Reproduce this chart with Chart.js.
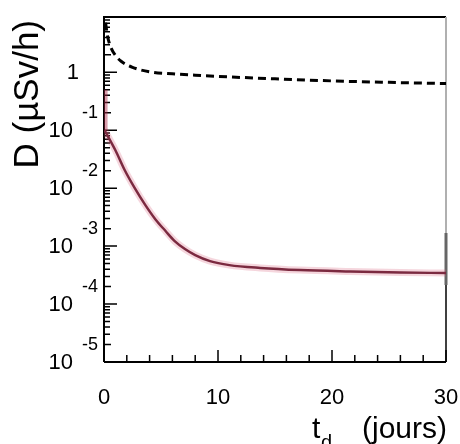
<!DOCTYPE html>
<html>
<head>
<meta charset="utf-8">
<script src="https://cdn.jsdelivr.net/npm/chart.js@4.4.1/dist/chart.umd.min.js"></script>
<style>
html,body{margin:0;padding:0;background:#fff;}
#wrap{width:460px;height:444px;}
</style>
</head>
<body>
<div id="wrap"><canvas id="doseChart" width="460" height="444"></canvas></div>
<script>

// dose curves (t in days, D in uSv/h)
const dashDays=[0,0.3,0.6,1,1.5,2.5,4,6,8,10,15,20,25,30];
const dashDose=[12,4.3,2.7,1.96,1.55,1.22,1.02,0.94,0.89,0.85,0.77,0.71,0.67,0.64];

// short rise along the axis at t=0
const edgeDays=[0,0.05];
const edgeDose=[0.5,0.1];

const redDays=[0.05,1,1.8,2.7,3.6,4.5,5.4,6.2,7.1,8,9.3,11,13.7,17.2,21.6,26,30];
const redDose=[0.1,0.0452,0.0208,0.01,0.0052,0.00292,0.00182,0.00122,0.00089,0.0007,0.00055,0.00047,0.00042,0.000386,0.000366,0.000352,0.000342];

const xLabels=[0,10,20,30];
const yExponents=[0,-1,-2,-3,-4,-5];

const FONT="'Liberation Sans', Arial, Helvetica, sans-serif";

function pts(xs,ys){
return xs.map((x,i)=>({x:x,y:ys[i]}));
}

const axesPlugin={

id:"rootAxes",

beforeDatasetsDraw(chart){

const ctx=chart.ctx;
const a=chart.chartArea;
const xs=chart.scales.x;
const ys=chart.scales.y;

ctx.save();

ctx.strokeStyle="#000";
ctx.lineWidth=2;

// frame
ctx.beginPath();
ctx.moveTo(a.left,a.bottom);
ctx.lineTo(a.left,a.top);
ctx.lineTo(a.right,a.top);
ctx.moveTo(a.left,a.bottom);
ctx.lineTo(a.right,a.bottom);
ctx.stroke();

ctx.strokeStyle="#b0b0b0";
ctx.beginPath();
ctx.moveTo(a.right,a.top);
ctx.lineTo(a.right,233);
ctx.stroke();

ctx.strokeStyle="#666";
ctx.lineWidth=3;
ctx.beginPath();
ctx.moveTo(a.right,233);
ctx.lineTo(a.right,285);
ctx.stroke();

ctx.strokeStyle="#000";
ctx.lineWidth=1.5;
ctx.beginPath();
ctx.moveTo(a.right,285);
ctx.lineTo(a.right,a.bottom);
ctx.stroke();

// y ticks, inside
ctx.lineWidth=1.5;
ctx.beginPath();
yExponents.forEach(e=>{
const py=ys.getPixelForValue(Math.pow(10,e));
ctx.moveTo(a.left,py);
ctx.lineTo(a.left+13,py);
for(let m=2;m<=9;m++){
const v=m*Math.pow(10,e);
if(v>ys.max) continue;
const q=ys.getPixelForValue(v);
ctx.moveTo(a.left,q);
ctx.lineTo(a.left+(m==2?7:6),q);
}
});
ctx.stroke();

// x ticks, inside
ctx.beginPath();
for(let t=0;t<=30;t+=2){
const px=xs.getPixelForValue(t);
const len=(t%10==0)?12:7;
ctx.moveTo(px,a.bottom);
ctx.lineTo(px,a.bottom-len);
}
ctx.stroke();

// labels
ctx.fillStyle="#000";
ctx.textBaseline="middle";

ctx.font="22px "+FONT;
ctx.textAlign="center";
xLabels.forEach(v=>{
ctx.fillText(String(v),xs.getPixelForValue(v),398);
});

yExponents.forEach(e=>{
const py=ys.getPixelForValue(Math.pow(10,e));
if(e==0){
ctx.font="22px "+FONT;
ctx.textAlign="right";
ctx.fillText("1",79,py+1);
return;
}
ctx.font="22px "+FONT;
ctx.textAlign="right";
ctx.fillText("10",73,py+1);
ctx.font="18px "+FONT;
ctx.textAlign="left";
ctx.fillText(String(e),82,py-17);
});

// x title with subscript
ctx.textBaseline="alphabetic";
ctx.font="30px "+FONT;
ctx.textAlign="right";
ctx.fillText("(jours)",447,438);
ctx.textAlign="left";
ctx.fillText("t",312,438);
ctx.font="20px "+FONT;
ctx.fillText("d",321,449);

// y title, rotated
ctx.save();
ctx.translate(38,20);
ctx.rotate(-Math.PI/2);
ctx.font="35px "+FONT;
ctx.textAlign="right";
ctx.fillText("D (\u00b5Sv/h)",0,0);
ctx.restore();

ctx.restore();

}

};

const ctx=document.getElementById("doseChart").getContext("2d");

new Chart(ctx,{

type:"line",

data:{

datasets:[

{
label:"dashed",
data:pts(dashDays,dashDose),
borderColor:"#000",
borderWidth:3,
borderDash:[8,5],
pointRadius:0,
fill:false,
cubicInterpolationMode:"monotone"
},

{
label:"edge",
data:pts(edgeDays,edgeDose),
borderColor:"rgba(170,40,70,0.45)",
borderWidth:6,
pointRadius:0,
fill:false
},

{
label:"halo",
data:pts(redDays,redDose),
borderColor:"rgba(214,90,120,0.25)",
borderWidth:7,
pointRadius:0,
fill:false,
cubicInterpolationMode:"monotone"
},

{
label:"dose",
data:pts(redDays,redDose),
borderColor:"#5c1a2e",
borderWidth:2.5,
pointRadius:0,
fill:false,
cubicInterpolationMode:"monotone"
}

]

},

options:{

responsive:false,
animation:false,

layout:{
padding:{left:104,right:14,top:17,bottom:82}
},

plugins:{
legend:{display:false},
tooltip:{enabled:false}
},

scales:{

x:{
type:"linear",
min:0,
max:30,
display:false
},

y:{
type:"logarithmic",
min:1e-5,
max:9,
display:false
}

}

},

plugins:[axesPlugin]

});

</script>
</body>
</html>
